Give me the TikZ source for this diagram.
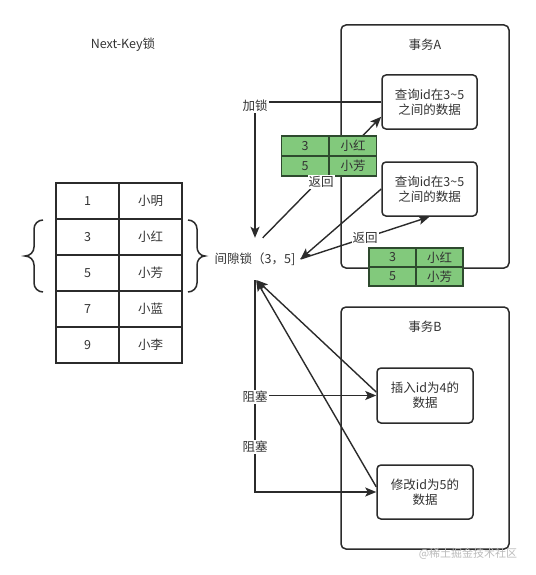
\documentclass[tikz,border=0pt]{standalone}
\usepackage{fontspec}
\setmainfont{Noto Sans CJK SC}
\usetikzlibrary{arrows.meta}
\definecolor{ln}{HTML}{2B2B2B}
\definecolor{txt}{HTML}{333333}
\definecolor{gfill}{HTML}{82C97C}
\definecolor{gline}{HTML}{2E4A2E}
\definecolor{wm}{HTML}{BBBBBB}
\begin{document}
\begin{tikzpicture}[x=1pt,y=-1pt, font=\fontsize{12.5}{15}\selectfont, text=txt,
  cell/.style={draw=ln, line width=1.5pt, minimum width=63pt, minimum height=36pt, inner sep=0pt},
  gcell/.style={draw=gline, fill=gfill, line width=1.5pt, minimum width=47pt, minimum height=20pt, inner sep=0pt},
  frame/.style={draw=ln, line width=1.5pt, rounded corners=5pt, fill=white},
  op/.style={draw=ln, line width=1.5pt, rounded corners=4pt, align=center, fill=white, inner sep=0pt},
  conn/.style={draw=ln, line width=1.4pt, -{Stealth[length=11pt,width=9pt,inset=2.5pt]}},
  lbl/.style={fill=white, inner sep=1pt},
  bracestyle/.style={draw=ln, line width=1.5pt},
]
\useasboundingbox (0,0) rectangle (535,575);

% title
\node (title) at (123,45) {Next-Key锁};

% main table
\node[cell] (c11) at (87.5,201) {1};   \node[cell] (c12) at (150.5,201) {小明};
\node[cell] (c21) at (87.5,237) {3};   \node[cell] (c22) at (150.5,237) {小红};
\node[cell] (c31) at (87.5,273) {5};   \node[cell] (c32) at (150.5,273) {小芳};
\node[cell] (c41) at (87.5,309) {7};   \node[cell] (c42) at (150.5,309) {小蓝};
\node[cell] (c51) at (87.5,345) {9};   \node[cell] (c52) at (150.5,345) {小李};

% braces
\draw[bracestyle] (43,220) to[out=180,in=90] (34,229) -- (34,247) to[out=-90,in=0] (25,256)
  to[out=0,in=90] (34,265) -- (34,283) to[out=-90,in=180] (43,292);
\draw[bracestyle] (188,220) to[out=0,in=90] (197,229) -- (197,247) to[out=-90,in=180] (205,256)
  to[out=180,in=90] (197,265) -- (197,283) to[out=-90,in=0] (188,292);

% gap lock
\node[inner xsep=5pt, inner ysep=0pt, minimum height=42pt] (gap) at (255,259) {间隙锁（3，5]};

% transaction frames
\node[frame, minimum width=168pt, minimum height=243pt] (txA) at (425,146.5) {};
\node (txAl) at (425,45) {事务A};
\node[frame, minimum width=168pt, minimum height=242pt] (txB) at (425,428) {};
\node (txBl) at (425,327) {事务B};

% operation boxes
\node[op, minimum width=95pt, minimum height=54pt] (q1) at (429.5,102) {查询id在3\textasciitilde5\\之间的数据};
\node[op, minimum width=95pt, minimum height=54pt] (q2) at (429.5,189) {查询id在3\textasciitilde5\\之间的数据};
\node[op, minimum width=96pt, minimum height=55pt] (ins) at (425,395.5) {插入id为4的\\数据};
\node[op, minimum width=96pt, minimum height=54pt] (upd) at (425,492) {修改id为5的\\数据};

% connectors
\draw[conn] (q1.west) -| (gap.north);
\draw[conn] (gap.70) -- (q1.197);
\draw[conn] (q2.west) -- (gap.east);
\draw[conn] (gap.east) -- (q2.south);
\draw[conn] (ins.176) -- (gap.-85);
\draw[conn] (upd.174) -- (gap.-87);
\draw[conn] (gap.south) |- (upd.west);
\draw[conn] (gap.south) |- (ins.west);

% green result tables
\node[gcell] (g11) at (305,146) {3};   \node[gcell] (g12) at (353,146) {小红};
\node[gcell] (g21) at (305,166) {5};   \node[gcell] (g22) at (353,166) {小芳};
\node[gcell, minimum height=19pt] (h11) at (392.5,257.5) {3};   \node[gcell, minimum height=19pt] (h12) at (439.5,257.5) {小红};
\node[gcell, minimum height=19pt] (h21) at (392.5,276.5) {5};   \node[gcell, minimum height=19pt] (h22) at (439.5,276.5) {小芳};

% labels
\node[lbl] (l1) at (255,106) {加锁};
\node[lbl] (l2) at (321,182) {返回};
\node[lbl] (l3) at (365,238) {返回};
\node[lbl] (l4) at (255,397) {阻塞};
\node[lbl] (l5) at (255,447) {阻塞};

% watermark
\node[text=wm, font=\fontsize{11}{13}\selectfont] (wmk) at (468,554) {@稀土掘金技术社区};
\end{tikzpicture}
\end{document}
